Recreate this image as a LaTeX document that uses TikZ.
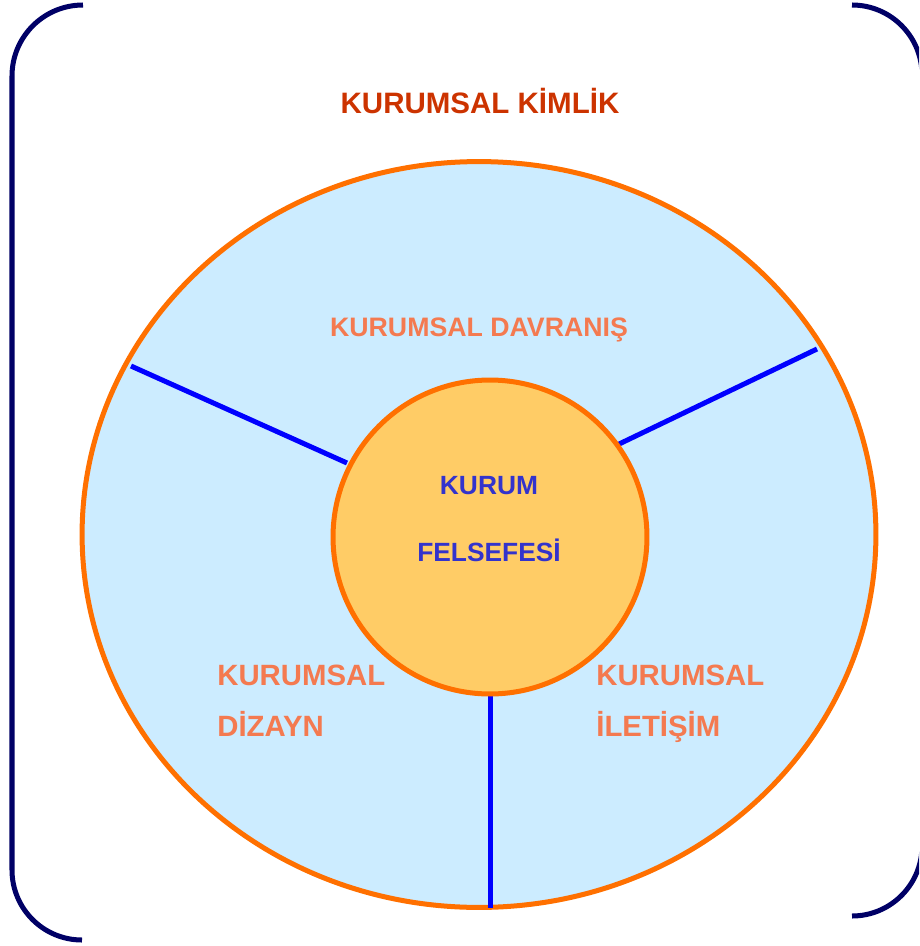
\documentclass[tikz,border=0pt]{standalone}
\usepackage{fontspec}
\setmainfont{Liberation Sans}
\usetikzlibrary{shapes.geometric}
\definecolor{titlered}{RGB}{204,51,0}
\definecolor{salmon}{RGB}{244,122,80}
\definecolor{textblue}{RGB}{51,51,204}
\definecolor{skyfill}{RGB}{204,236,255}
\definecolor{ringorange}{RGB}{255,112,0}
\definecolor{corefill}{RGB}{255,204,102}
\definecolor{spokeblue}{RGB}{0,0,255}
\definecolor{navy}{RGB}{0,0,102}
\tikzset{
  bracket/.style={draw=navy,line width=2.85pt},
  spoke/.style={draw=spokeblue,line width=2.85pt},
  sector/.style={text=salmon,font=\fontsize{16.7}{20}\selectfont\bfseries,inner sep=0pt},
  toptext/.style={text=salmon,font=\fontsize{15.2}{18}\selectfont\bfseries,inner sep=0pt},
  coretext/.style={text=textblue,font=\fontsize{15}{18}\selectfont\bfseries,inner sep=0pt},
}
\begin{document}
\begin{tikzpicture}[x=0.02cm,y=-0.02cm]
\useasboundingbox (0,0) rectangle (919,946);
\clip (0,0) rectangle (919,946);
% brackets
\draw[bracket] (83,5) arc[start angle=-90,end angle=-180,radius=71] -- (12,870) arc[start angle=180,end angle=90,radius=70];
\draw[bracket] (852,5) arc[start angle=-90,end angle=0,radius=70] -- (922,846) arc[start angle=0,end angle=90,radius=70];
% title
\node[anchor=base,text=titlered,font=\fontsize{16.8}{20}\selectfont\bfseries,inner sep=0pt] (title) at (480,113) {KURUMSAL KİMLİK};
% outer ellipse
\node[ellipse,draw=ringorange,fill=skyfill,line width=2.85pt,inner sep=0pt,
      minimum width=15.88cm,minimum height=14.92cm] (outer) at (479,534.5) {};
% spokes
\coordinate (l1) at (131,366); \coordinate (l2) at (347,463);
\coordinate (r1) at (817,349); \coordinate (r2) at (617,445);
\coordinate (b1) at (490,694); \coordinate (b2) at (490,908);
\draw[spoke] (l1) -- (l2);
\draw[spoke] (r1) -- (r2);
\draw[spoke] (b1) -- (b2);
% inner circle
\node[circle,draw=ringorange,fill=corefill,line width=2.85pt,minimum size=6.28cm,inner sep=0pt] (inner) at (490,537) {};
% texts
\node[toptext,anchor=base] (davranis) at (479,336) {KURUMSAL DAVRANIŞ};
\node[coretext,anchor=base] (kurum) at (489,494) {KURUM};
\node[coretext,anchor=base] (felsefesi) at (489,561) {FELSEFESİ};
\node[sector,anchor=base west] (dk) at (217,685) {KURUMSAL};
\node[sector,anchor=base west] (dd) at (217,736) {DİZAYN};
\node[sector,anchor=base west] (ik) at (596,685) {KURUMSAL};
\node[sector,anchor=base west] (ii) at (596,736) {İLETİŞİM};
\end{tikzpicture}
\end{document}
